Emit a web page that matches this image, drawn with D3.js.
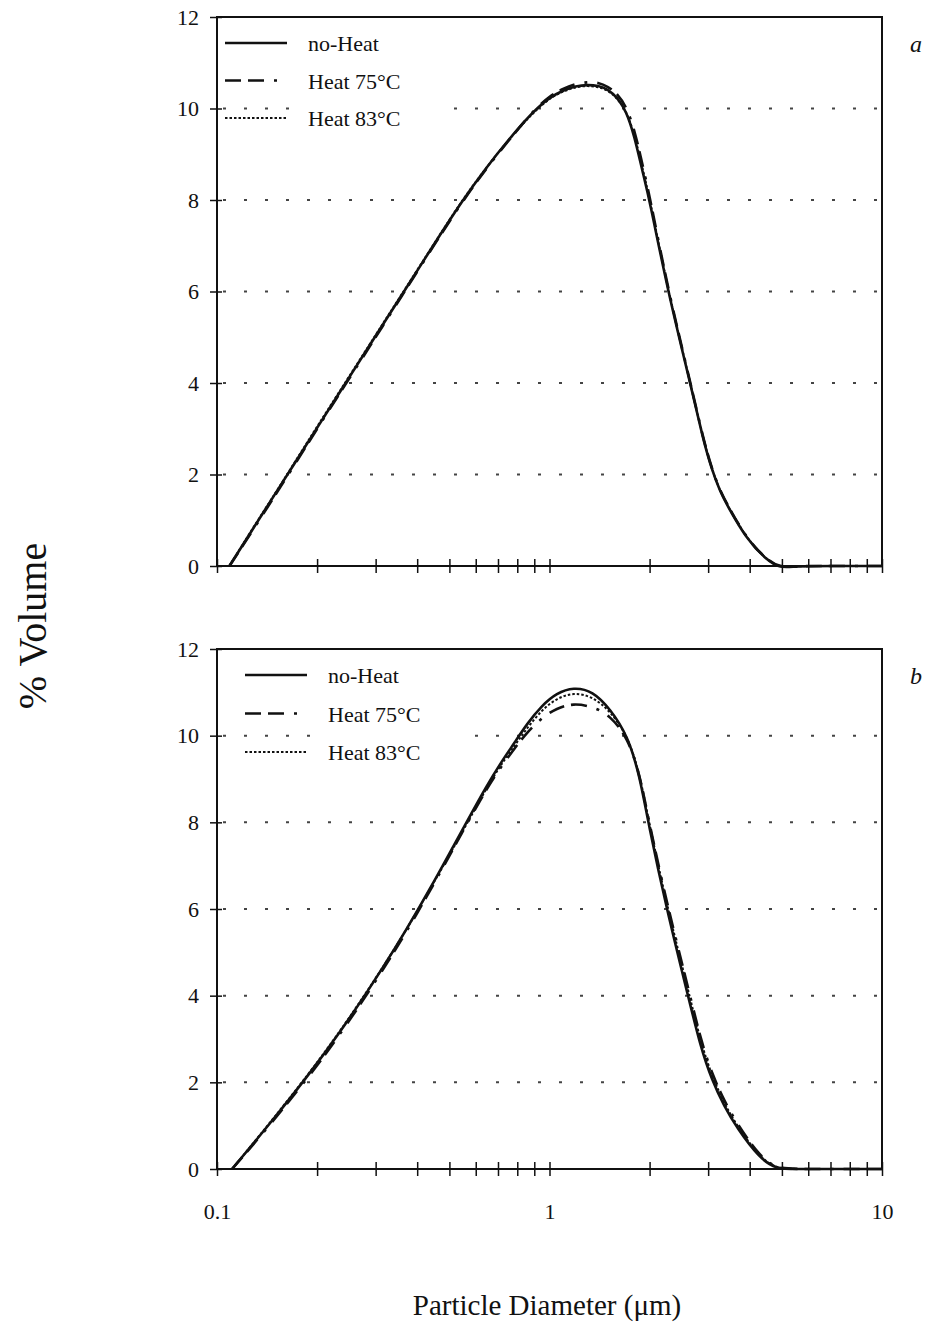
<!DOCTYPE html>
<html>
<head>
<meta charset="utf-8">
<script src="https://cdn.jsdelivr.net/npm/d3@7"></script>
<style>
  body { margin: 0; background: #fff; }
  text { font-family: "Liberation Serif", "DejaVu Serif", serif; fill: #111; }
</style>
</head>
<body>
<svg id="svg" width="933" height="1327"></svg>
<script>
// ---- data ----
const seriesNames = ["no-Heat", "Heat 75°C", "Heat 83°C"];
const yTicks = [0, 2, 4, 6, 8, 10, 12];
const xTickLabels = [0.1, 1, 10];

// panel a
const diamA = [0.109, 0.13, 0.15, 0.168, 0.2, 0.246, 0.3, 0.355, 0.45, 0.546, 0.65, 0.75, 0.85, 0.916,
  1.0, 1.1, 1.2, 1.3, 1.4, 1.5, 1.6, 1.7, 1.8, 1.9, 2.0, 2.27, 2.65, 2.9, 3.08, 3.25, 3.42, 3.93, 4.5, 4.93, 5.5, 7, 10];
const noHeatA = [0, 0.88, 1.59, 2.15, 3.02, 4.05, 5.03, 5.86, 7.04, 7.98, 8.74, 9.3, 9.76, 10,
  10.24, 10.4, 10.49, 10.52, 10.5, 10.42, 10.24, 9.95, 9.4, 8.65, 8.0, 6, 4, 2.75, 2.1, 1.65, 1.33, 0.57, 0.13, -0.05, 0, 0, 0];
const heat75A = [0, 0.85, 1.56, 2.12, 3.0, 4.02, 5.0, 5.84, 7.02, 7.96, 8.72, 9.28, 9.76, 10.02,
  10.27, 10.44, 10.54, 10.58, 10.57, 10.48, 10.32, 10.05, 9.55, 8.8, 8.1, 6.05, 4.03, 2.78, 2.12, 1.67, 1.35, 0.58, 0.14, -0.03, 0, 0, 0];
const heat83A = [0, 0.9, 1.6, 2.17, 3.05, 4.07, 5.05, 5.88, 7.05, 8.0, 8.74, 9.3, 9.74, 9.98,
  10.22, 10.38, 10.47, 10.5, 10.47, 10.4, 10.22, 9.95, 9.45, 8.72, 8.05, 6.03, 4.02, 2.77, 2.11, 1.66, 1.34, 0.58, 0.14, -0.04, 0, 0, 0];

// panel b
const diamB = [0.111, 0.142, 0.19, 0.234, 0.284, 0.347, 0.40, 0.478, 0.558, 0.648, 0.71, 0.787, 0.855, 0.95,
  1.05, 1.18, 1.35, 1.52, 1.72, 1.87, 1.98, 2.25, 2.61, 2.85, 3.08, 3.35, 3.66, 4.28, 4.8, 5.5, 7, 10];
const noHeatB = [0, 0.98, 2.2, 3.15, 4.1, 5.15, 5.95, 7.0, 7.95, 8.85, 9.35, 9.85, 10.27, 10.7,
  10.98, 11.12, 11.03, 10.62, 10, 9.05, 8, 6, 4, 2.8, 2.05, 1.45, 0.95, 0.25, 0, 0, 0, 0];
const heat75B = [0, 0.95, 2.15, 3.1, 4.05, 5.1, 5.9, 6.95, 7.9, 8.78, 9.25, 9.72, 10.07, 10.42,
  10.63, 10.75, 10.67, 10.47, 9.95, 9.1, 8.1, 6.15, 4.2, 2.98, 2.2, 1.58, 1.05, 0.3, 0.02, 0, 0, 0];
const heat83B = [0, 1.0, 2.22, 3.17, 4.12, 5.15, 5.95, 6.98, 7.9, 8.8, 9.3, 9.78, 10.17, 10.6,
  10.86, 11.0, 10.9, 10.57, 10.0, 9.1, 8.1, 6.1, 4.15, 2.92, 2.15, 1.52, 1.0, 0.28, 0.01, 0, 0, 0];

var svg = d3.select("#svg");

var x = d3.scaleLog().domain([0.1, 10]).range([217, 882]);

// line styles: solid, long dash + dot, dotted
var styles = [
  { dash: null, w: 2.6 },
  { dash: "16,7,16,10,3,10", w: 2.6 },
  { dash: "2.5,2", w: 2 },
];

var minorTicks = [];
[0.1, 1].forEach(function (d) {
  for (var i = 1; i <= 9; i++) minorTicks.push(+(d * i).toFixed(2));
});
minorTicks.push(10);

function drawPanel(cfg) {
  var y = d3.scaleLinear().domain([0, 12]).range([cfg.bottom, cfg.top]);
  var g = svg.append("g");

  // dotted grid
  g.append("g")
    .selectAll("line")
    .data([2, 4, 6, 8, 10])
    .enter()
    .append("line")
    .attr("x1", x(0.1) + 6)
    .attr("x2", x(10) - 4)
    .attr("y1", (d) => y(d))
    .attr("y2", (d) => y(d))
    .attr("stroke", "#444")
    .attr("stroke-width", 2)
    .attr("stroke-dasharray", "3,18");

  // frame
  g.append("rect")
    .attr("x", x(0.1))
    .attr("y", y(12))
    .attr("width", x(10) - x(0.1))
    .attr("height", y(0) - y(12))
    .attr("fill", "none")
    .attr("stroke", "#111")
    .attr("stroke-width", 2);

  // y axis (ticks crossing the line)
  var ay = g.append("g")
    .attr("transform", "translate(" + x(0.1) + ",0)")
    .call(d3.axisLeft(y).tickValues(yTicks).tickSize(7).tickPadding(11));
  ay.select(".domain").remove();
  ay.selectAll("line").attr("x2", -7).attr("x1", 5).attr("stroke", "#111").attr("stroke-width", 1.5);
  ay.selectAll("text").style("font-size", "22px").style("font-family", "Liberation Serif");

  // x axis
  var ax = g.append("g")
    .attr("transform", "translate(0," + y(0) + ")")
    .call(d3.axisBottom(x).tickValues(minorTicks).tickSize(7).tickFormat((d) =>
      cfg.labels && xTickLabels.indexOf(d) >= 0 ? d3.format("~g")(d) : ""
    ).tickPadding(27));
  ax.select(".domain").remove();
  ax.selectAll("line").attr("y1", -7).attr("y2", 7).attr("stroke", "#111").attr("stroke-width", 1.5);
  ax.selectAll("text").style("font-size", "22px").style("font-family", "Liberation Serif");

  // curves
  var line = d3.line()
    .x((d) => x(d[0]))
    .y((d) => y(d[1]))
    .curve(d3.curveBasis);

  [2, 1, 0].forEach(function (k) {
    var pts = cfg.diam.map((d, i) => [d, cfg.series[k][i]]);
    g.append("path")
      .attr("d", line(pts))
      .attr("fill", "none")
      .attr("stroke", "#111")
      .attr("stroke-width", styles[k].w)
      .attr("stroke-dasharray", styles[k].dash)
      .attr("stroke-linejoin", "round");
  });

  // legend
  var lg = g.append("g");
  lg.append("rect")
    .attr("x", cfg.legX + 68)
    .attr("y", cfg.legY - 18)
    .attr("width", 160)
    .attr("height", cfg.legStep * 2 + 36)
    .attr("fill", "#fff");
  seriesNames.forEach(function (name, k) {
    var ly = cfg.legY + k * cfg.legStep;
    lg.append("line")
      .attr("x1", cfg.legX)
      .attr("x2", cfg.legX + 62)
      .attr("y1", ly)
      .attr("y2", ly)
      .attr("stroke", "#111")
      .attr("stroke-width", styles[k].w)
      .attr("stroke-dasharray", styles[k].dash);
    lg.append("text")
      .attr("x", cfg.legX + 83)
      .attr("y", ly + 8)
      .style("font-size", "22px")
      .text(name);
  });

  // panel letter
  g.append("text")
    .attr("x", 916)
    .attr("y", cfg.top + 35)
    .attr("text-anchor", "middle")
    .style("font-size", "24px")
    .style("font-style", "italic")
    .text(cfg.letter);
}

drawPanel({
  top: 17, bottom: 566, letter: "a", labels: false,
  diam: diamA, series: [noHeatA, heat75A, heat83A],
  legX: 225, legY: 43, legStep: 37.5,
});

drawPanel({
  top: 649, bottom: 1169, letter: "b", labels: true,
  diam: diamB, series: [noHeatB, heat75B, heat83B],
  legX: 245, legY: 675, legStep: 38.5,
});

// axis titles
svg.append("text")
  .attr("transform", "translate(46,626) rotate(-90)")
  .attr("text-anchor", "middle")
  .style("font-size", "40px")
  .text("% Volume");

svg.append("text")
  .attr("x", 547)
  .attr("y", 1315)
  .attr("text-anchor", "middle")
  .style("font-size", "29px")
  .text("Particle Diameter (μm)");
</script>
</body>
</html>
